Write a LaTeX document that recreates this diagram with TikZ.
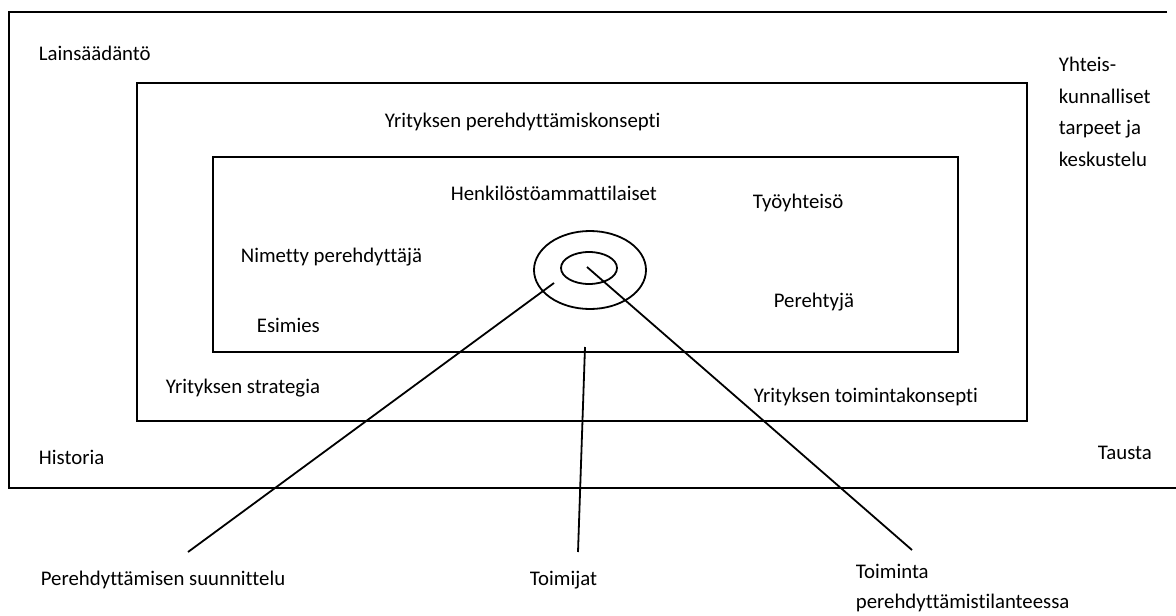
\documentclass[tikz,border=0pt]{standalone}
\usepackage{fontspec}
\setmainfont{Carlito}[Ligatures=CommonOff]
\usetikzlibrary{positioning}

\begin{document}
\begin{tikzpicture}[x=1pt, y=-1pt, line width=1.8pt,
    lbl/.style={inner sep=0pt, anchor=west, align=left, font=\fontsize{20.8}{31.5}\selectfont}]
    \useasboundingbox (0,0) rectangle (1176,616);

    % Frames: background, company concept, working community
    \draw (1167,12) -- (9,12) -- (9,488) -- (1176,488);
    \draw (137,83) rectangle (1027,421);
    \draw (213,157) rectangle (958,352);

    % Rings in the middle
    \coordinate (ring) at (590,270);
    \draw (ring) ellipse [x radius=56pt, y radius=39pt];
    \draw (589,268) ellipse [x radius=28pt, y radius=16pt];

    % Outer labels
    \node (lainsaadanto) [lbl] at (38,53) {Lainsäädäntö};
    \node (yhteis) [lbl] at (1058,112) {Yhteis-\\kunnalliset\\tarpeet ja\\keskustelu};
    \node (historia) [lbl] at (38,457) {Historia};
    \node (tausta) [lbl] at (1097,453) {Tausta};

    % Company level
    \node (perkonsepti) [lbl] at (384,122) {Yrityksen perehdyttämiskonsepti};
    \node (strategia) [lbl] at (165,388) {Yrityksen strategia};
    \node (toimkonsepti) [lbl] at (753,397) {Yrityksen toimintakonsepti};

    % Working community
    \node (henkilosto) [lbl] at (450,193) {Henkilöstöammattilaiset};
    \node (tyoyhteiso) [lbl] at (752,203) {Työyhteisö};
    \node (nimetty) [lbl] at (240,257) {Nimetty perehdyttäjä};
    \node (perehtyja) [lbl] at (773,302) {Perehtyjä};
    \node (esimies) [lbl] at (256,325) {Esimies};

    % Labels below the frame
    \node (suunnittelu) [lbl] at (40,580) {Perehdyttämisen suunnittelu};
    \node (toimijat) [lbl] at (529,580) {Toimijat};
    \node (toiminta) [lbl, font=\fontsize{20.8}{30}\selectfont] at (855,588) {Toiminta\\perehdyttämistilanteessa};

    % Pointer lines
    \coordinate (suunStart) at (554,283);
    \coordinate (suunEnd) at (188,552);
    \coordinate (toimijatStart) at (585,347);
    \coordinate (toimijatEnd) at (578,552);
    \coordinate (toimintaStart) at (587,267);
    \coordinate (toimintaEnd) at (912,550);
    \draw (suunStart) -- (suunEnd);
    \draw (toimijatStart) -- (toimijatEnd);
    \draw (toimintaStart) -- (toimintaEnd);
\end{tikzpicture}
\end{document}
